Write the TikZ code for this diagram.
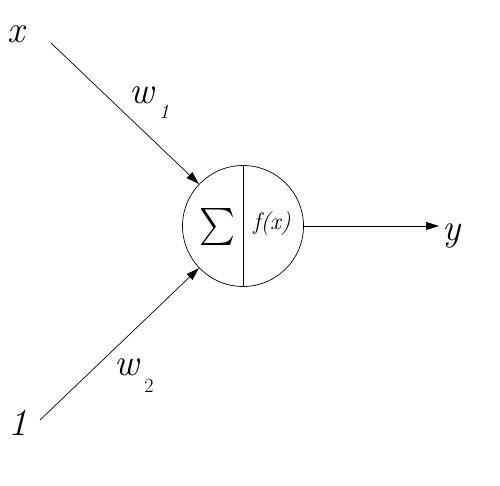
\documentclass[tikz,border=0pt]{standalone}
\usepackage{fontspec}
\usetikzlibrary{arrows.meta}
\begin{document}
\begin{tikzpicture}[x=1pt,y=-1pt,
  conn/.style={line width=0.7pt,-{Triangle[length=13pt,width=8pt]}},
  big/.style={font=\fontsize{38}{42}\selectfont\itshape,inner sep=0pt},
  sub/.style={font=\fontsize{20}{22}\selectfont,inner sep=0pt}]
\useasboundingbox (0,0) rectangle (500,485);
\node[draw,circle,minimum size=121pt,inner sep=0pt,line width=0.7pt] (n) at (243,226) {};
\draw[line width=0.7pt] (n.north) -- (n.south);
\node[inner sep=0pt] (sig) at (217,227) {\scalebox{3.4}[3.7]{$\sum$}};
\node[inner sep=0pt,font=\fontsize{24}{26}\selectfont\itshape] (fx) at (272,224) {f(x)};
\node[big,anchor=base] (xl) at (16,42) {x};
\node[big,anchor=base] (onel) at (18,435) {1};
\node[big,anchor=base] (yl) at (452,240) {y};
\node[big,anchor=base] (w1) at (142,103) {w};
\node[sub,anchor=base] (w1s) at (164,118) {\textit{1}};
\node[big,anchor=base] (w2) at (127,375) {w};
\node[sub,anchor=base] (w2s) at (149,392) {2};
\coordinate (xin) at (51,43);
\coordinate (onein) at (40,420);
\coordinate (yend) at (439,226);
\draw[conn] (xin) -- (n);
\draw[conn] (onein) -- (n);
\draw[conn] (n.east) -- (yend);
\end{tikzpicture}
\end{document}
